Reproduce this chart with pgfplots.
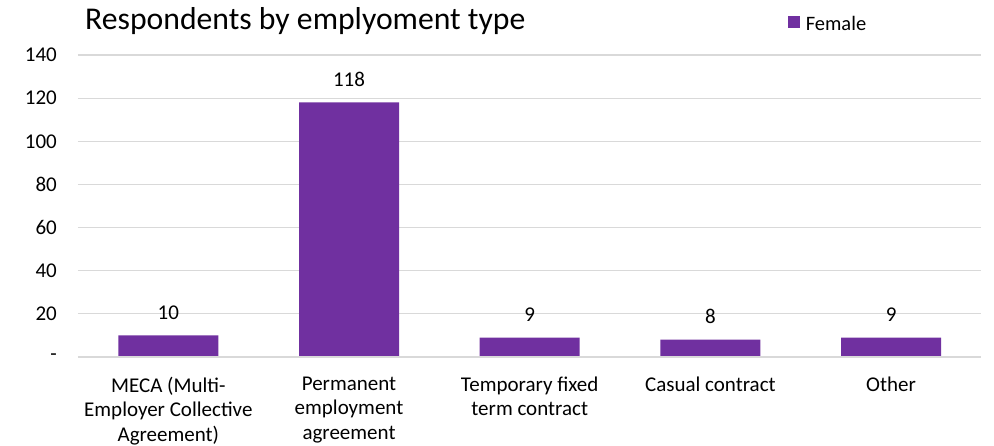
\documentclass[border=0pt]{standalone}
\usepackage{fontspec}
\setmainfont{Carlito}
\usepackage{pgfplots}
\pgfplotsset{compat=1.18}
\definecolor{barpurple}{HTML}{7030A0}
\definecolor{gridgrey}{HTML}{D9D9D9}
\newcommand{\tickfont}{\fontsize{21}{24.5}\selectfont}

\begin{document}
\begin{tikzpicture}
\begin{axis}[
  name=ax,
  scale only axis,
  width=903.4pt, height=302pt,
  ybar, bar width=100pt,
  xmin=-0.5, xmax=4.5,
  ymin=0, ymax=140,
  xtick={0,1,2,3,4},
  xticklabels={{MECA (Multi-\\Employer Collective\\Agreement)},
    {Permanent\\employment\\agreement},
    {Temporary fixed\\term contract},
    {Casual contract},
    {Other}},
  ytick={0,20,40,60,80,100,120,140},
  yticklabels={-,20,40,60,80,100,120,140},
  major tick length=0pt,
  axis line style={draw=none},
  axis x line*=bottom,
  ymajorgrids,
  grid style={gridgrey, line width=1.2pt},
  xticklabel style={font=\tickfont, align=center, anchor=north, inner sep=0pt, yshift=-19.5pt},
  yticklabel style={font=\tickfont, anchor=east, inner sep=0pt, xshift=-21pt},
  /pgf/number format/assume math mode=true,
  nodes near coords,
  every node near coord/.append style={font=\tickfont, anchor=south, inner sep=0pt, yshift=16pt, black},
  title={Respondents by emplyoment type},
  title style={at={(0,1)}, anchor=base west, inner sep=0pt, xshift=7pt, yshift=19.5pt,
    font=\fontsize{31.7}{38}\selectfont},
  legend style={at={(0.786,1.13)}, anchor=north west, draw=none, fill=none,
    inner sep=0pt, nodes={inner sep=0pt}, column sep=6pt,
    font=\fontsize{20.5}{24}\selectfont},
  legend image code/.code={\fill[barpurple] (0pt,-4pt) rectangle (11.5pt,7.5pt);},
]
\addplot[fill=barpurple, draw=none] table[x=x, y=n] {
x n
0 10
1 118
2 9
3 8
4 9
};
\addlegendentry{Female}
\draw[gridgrey, line width=1.2pt] (rel axis cs:0,0) -- (rel axis cs:1,0);
\end{axis}
\pgfresetboundingbox
\path[use as bounding box] ([shift={(-78pt,-89pt)}]ax.south west) rectangle ([shift={(12.6pt,55pt)}]ax.north east);
\end{tikzpicture}
\end{document}
